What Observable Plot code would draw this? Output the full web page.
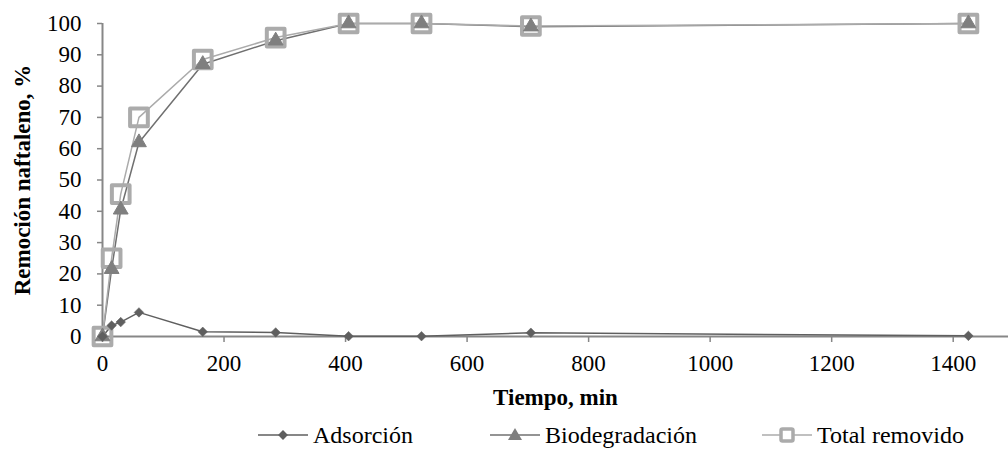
<!DOCTYPE html>
<html>
<head>
<meta charset="utf-8">
<script src="https://cdn.jsdelivr.net/npm/d3@7"></script>
<script src="https://cdn.jsdelivr.net/npm/@observablehq/plot@0.6"></script>
<style>
  html, body { margin: 0; padding: 0; background: #fff; }
  #wrap { width: 1008px; font-family: 'Liberation Serif', 'Times New Roman', Tinos, 'DejaVu Serif', serif; }
  #legend { position: relative; height: 30px; font-size: 24px; color: #000; }
  .item { position: absolute; top: 0; height: 30px; display: flex; align-items: center; white-space: nowrap; }
  .item svg { margin-right: 5px; }
  #chart svg text { font-family: 'Liberation Serif', 'Times New Roman', Tinos, 'DejaVu Serif', serif; }
</style>
</head>
<body>
<div id="wrap">
  <div id="chart"></div>
  <div id="legend"></div>
</div>
<script>
const time = [0, 15, 30, 60, 165, 285, 405, 525, 705, 1425];
const adsorcion = [0, 3.5, 4.6, 7.7, 1.5, 1.3, 0.1, 0.1, 1.2, 0.2];
const biodegradacion = [0, 21.5, 40.5, 62, 87, 94.5, 100, 100, 99, 100];
const totalRemovido = [0, 25, 45.5, 70, 88.5, 95.5, 100, 100, 99.2, 100];
const seriesNames = ["Adsorción", "Biodegradación", "Total removido"];
const xTicks = [0, 200, 400, 600, 800, 1000, 1200, 1400];
const yTicks = [0, 10, 20, 30, 40, 50, 60, 70, 80, 90, 100];
const xTitle = "Tiempo, min";
const yTitle = "Remoción naftaleno, %";

const axisColor = "#878787";
const colAds = "#5f5f5f", colBioLine = "#707070", colBioMark = "#7f7f7f", colTot = "#ababab";
const serif = "'Liberation Serif', 'Times New Roman', Tinos, 'DejaVu Serif', serif";

const rows = (vals) => time.map((t, i) => ({t, v: vals[i]}));
const ads = rows(adsorcion), bio = rows(biodegradacion), tot = rows(totalRemovido);

const chart = Plot.plot({
  width: 1008,
  height: 420,
  marginLeft: 102,
  marginRight: 0,
  marginTop: 23,
  marginBottom: 84,
  style: { fontFamily: serif, fontSize: "23px", color: "#000", background: "#fff", overflow: "visible" },
  x: { domain: [0, 1491] },
  y: { domain: [0, 100] },
  marks: [
    Plot.ruleY([0], { stroke: axisColor, strokeWidth: 2 }),
    Plot.ruleX([0], { y1: 0, y2: 100, stroke: axisColor, strokeWidth: 2 }),
    Plot.axisX({ ticks: xTicks, tickFormat: d3.format("d"), tickSize: 6, tickPadding: 12, stroke: axisColor, strokeWidth: 1.5, label: null, fill: "#000", fontSize: 23 }),
    Plot.axisY({ ticks: yTicks, tickFormat: d3.format("d"), tickSize: 5, tickPadding: 16, stroke: axisColor, strokeWidth: 1.5, label: null, fill: "#000", fontSize: 23 }),
    Plot.text([xTitle], { frameAnchor: "bottom", dy: 68, textAnchor: "middle", fontWeight: "bold", fontSize: 23, fill: "#000" }),
    Plot.text([yTitle], { frameAnchor: "left", dx: -80, rotate: -90, textAnchor: "middle", fontWeight: "bold", fontSize: 23, fill: "#000" }),
    Plot.line(ads, { x: "t", y: "v", stroke: colAds, strokeWidth: 1.5 }),
    Plot.line(bio, { x: "t", y: "v", stroke: colBioLine, strokeWidth: 1.5 }),
    Plot.line(tot, { x: "t", y: "v", stroke: colTot, strokeWidth: 1.5 }),
    Plot.dot(tot, { x: "t", y: "v", symbol: "square", r: 10, stroke: colTot, strokeWidth: 4, fill: "none", strokeLinejoin: "round" }),
    Plot.dot(bio, { x: "t", y: "v", symbol: "triangle", r: 5.5, fill: colBioMark, stroke: colBioMark, strokeWidth: 1 }),
    Plot.dot(ads, { x: "t", y: "v", symbol: "square", r: 3.8, rotate: 45, fill: colAds, stroke: colAds, strokeWidth: 0.5 })
  ]
});
document.getElementById("chart").appendChild(chart);

// legend
const symbols = [
  `<line x1="0" y1="10" x2="50" y2="10" stroke="${colAds}" stroke-width="1.5"/><rect x="21.5" y="6.5" width="7" height="7" fill="${colAds}" transform="rotate(45 25 10)"/>`,
  `<line x1="0" y1="10" x2="50" y2="10" stroke="${colBioLine}" stroke-width="1.5"/><path d="M25,3 L32,15 L18,15 Z" fill="${colBioMark}"/>`,
  `<line x1="0" y1="10" x2="50" y2="10" stroke="${colTot}" stroke-width="1.5"/><rect x="19" y="4" width="12" height="12" rx="1.5" fill="#fff" stroke="${colTot}" stroke-width="3.5"/>`
];
const legendLefts = ["258px", "490px", "762px"];
const legend = document.getElementById("legend");
seriesNames.forEach((name, i) => {
  const el = document.createElement("div");
  el.className = "item";
  el.style.left = legendLefts[i];
  el.innerHTML = `<svg width="50" height="20">${symbols[i]}</svg><span>${name}</span>`;
  legend.appendChild(el);
});
</script>
</body>
</html>
